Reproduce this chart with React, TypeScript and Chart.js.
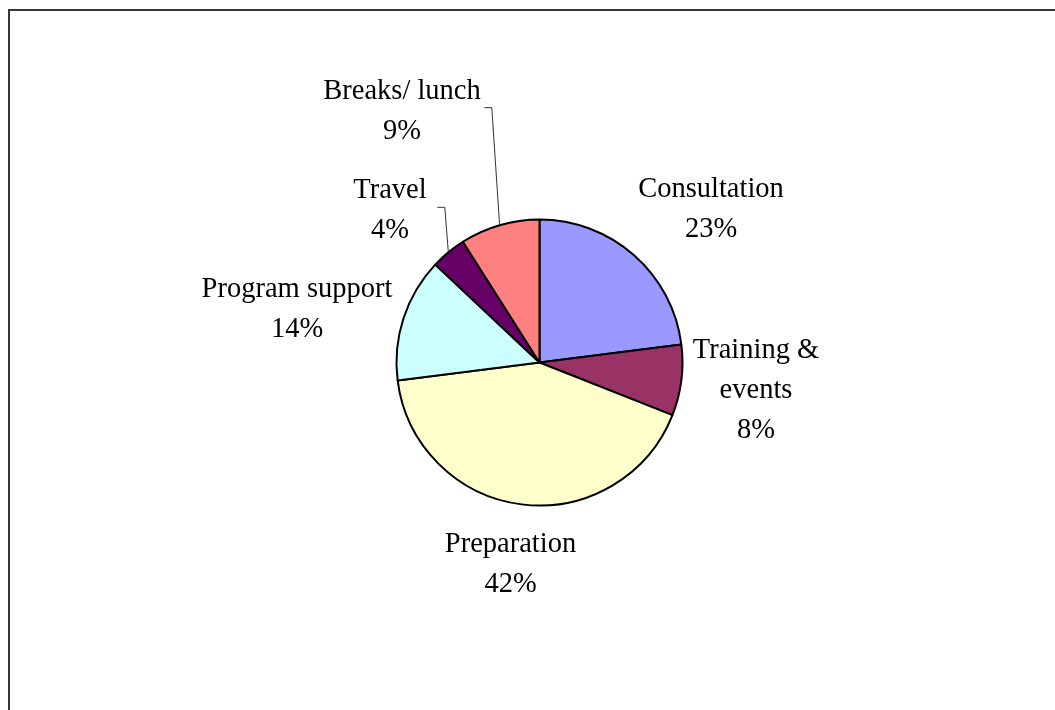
import React, { useEffect, useRef } from "react";
import { Chart, registerables } from "chart.js";

Chart.register(...registerables);

const categories = ["Consultation", "Training & events", "Preparation", "Program support", "Travel", "Breaks/ lunch"];
const values = [23, 8, 42, 14, 4, 9];
const colors = ["#9999FF", "#993366", "#FFFFCC", "#CCFFFF", "#660066", "#FF8080"];
// how each category name wraps in its label
const labelLines = [["Consultation"], ["Training &", "events"], ["Preparation"], ["Program support"], ["Travel"], ["Breaks/ lunch"]];
// label anchor (text centre x, first baseline y) relative to the pie centre
const labelOffsets = [
  [171.5, -165.8],
  [216.5, -4.5],
  [-29, 189],
  [-242.5, -65.5],
  [-149.5, -164.5],
  [-137.5, -263.5],
];
// leader line start (relative to pie centre), null = no leader
const leaderStarts: (number[] | null)[] = [null, null, null, null, [-102.2, -155.2], [-55.2, -254.8]];

const W = 1055;
const H = 710;
const CX = 539.5;
const CY = 362.5;
const R = 143;
const BW = 2;
const FONT = "28.5px 'Liberation Serif', 'Times New Roman', serif";
const LINE_H = 40;

const labelPlugin = {
  id: "pieLabels",
  beforeDraw(chart: any) {
    const ctx = chart.ctx;
    ctx.save();
    ctx.fillStyle = "#ffffff";
    ctx.fillRect(0, 0, W, H);
    ctx.fillStyle = "#383838";
    ctx.fillRect(8, 9, W - 8, 2);
    ctx.fillRect(8, 9, 2, H - 9);
    ctx.restore();
  },
  afterDraw(chart: any) {
    const ctx = chart.ctx;
    const meta = chart.getDatasetMeta(0);
    const total = values.reduce((a, b) => a + b, 0);
    ctx.save();
    ctx.font = FONT;
    ctx.fillStyle = "#000000";
    ctx.textAlign = "center";
    ctx.textBaseline = "alphabetic";
    meta.data.forEach((arc: any, i: number) => {
      const p = arc.getProps(["x", "y", "startAngle", "endAngle", "outerRadius"], true);
      const lines = [...labelLines[i], Math.round((values[i] / total) * 100) + "%"];
      const ax = p.x + labelOffsets[i][0];
      const ay = p.y + labelOffsets[i][1];
      lines.forEach((t, k) => ctx.fillText(t, ax, ay + k * LINE_H));
      const ls = leaderStarts[i];
      if (ls) {
        const mid = (p.startAngle + p.endAngle) / 2;
        const ex = p.x + Math.cos(mid) * p.outerRadius;
        const ey = p.y + Math.sin(mid) * p.outerRadius;
        const sx = p.x + ls[0];
        const sy = p.y + ls[1];
        ctx.beginPath();
        ctx.strokeStyle = "#333333";
        ctx.lineWidth = 1;
        ctx.moveTo(sx, sy);
        ctx.lineTo(sx + 7.5, sy);
        ctx.lineTo(ex, ey);
        ctx.stroke();
      }
    });
    ctx.restore();
  },
};

export default function App() {
  const ref = useRef<HTMLCanvasElement | null>(null);
  useEffect(() => {
    if (!ref.current) return;
    const half = R + BW / 2;
    const chart = new Chart(ref.current, {
      type: "pie",
      data: {
        labels: categories,
        datasets: [
          {
            data: values,
            backgroundColor: colors,
            borderColor: "#000000",
            borderWidth: BW,
          },
        ],
      },
      options: {
        animation: false,
        responsive: false,
        devicePixelRatio: 1,
        layout: {
          padding: {
            left: CX - half,
            right: W - (CX + half),
            top: CY - half,
            bottom: H - (CY + half),
          },
        },
        plugins: {
          legend: { display: false },
          tooltip: { enabled: false },
        },
      },
      plugins: [labelPlugin],
    });
    return () => chart.destroy();
  }, []);
  return (
    <canvas
      ref={ref}
      width={W}
      height={H}
      style={{ position: "fixed", left: 0, top: 0, width: W, height: H, display: "block" }}
    />
  );
}
